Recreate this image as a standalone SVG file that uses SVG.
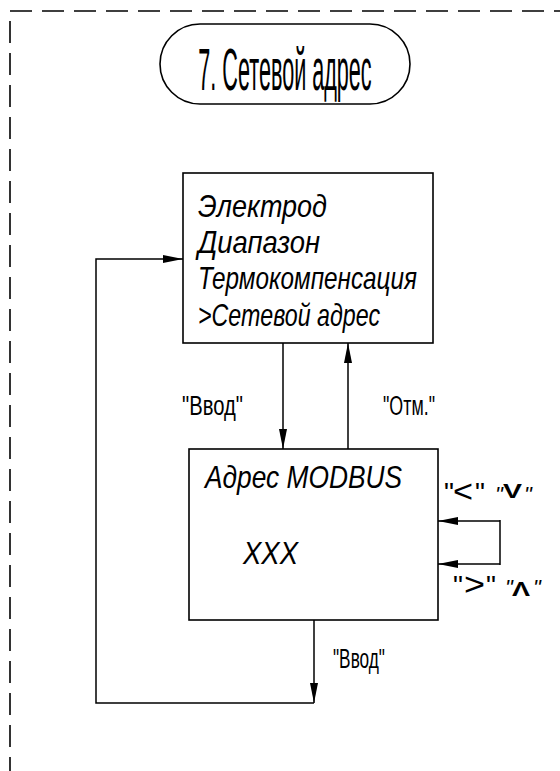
<svg xmlns="http://www.w3.org/2000/svg" width="560" height="771" viewBox="0 0 560 771">
<style>
.frame{fill:none;stroke:#000;stroke-width:1.6;stroke-dasharray:22 10}
.box{fill:#fff;stroke:#000;stroke-width:1.6}
.ln{fill:none;stroke:#000;stroke-width:1.5}
.t{font-family:"Liberation Sans",Arial,sans-serif;fill:#000}
.it{font-style:italic}
.b{font-weight:bold}
</style>
<defs>
<marker id="ah" markerUnits="userSpaceOnUse" markerWidth="20" markerHeight="8" refX="20" refY="4" orient="auto">
<path d="M0,0 L20,4 L0,8 Z" fill="#000"/>
</marker>
</defs>
<g id="frame">
<line class="frame" x1="10" y1="11" x2="560" y2="11"/>
<line class="frame" x1="10" y1="21" x2="10" y2="771"/>
</g>
<g id="title">
<rect class="box" x="160" y="24" width="250" height="80" rx="40" ry="40"/>
<text class="t" transform="translate(285,90) scale(0.36,1)" x="0" y="0" font-size="60" text-anchor="middle">7. Сетевой адрес</text>
</g>
<g id="menu">
<rect class="box" x="183" y="173" width="250" height="170"/>
<text class="t it" x="198" y="217" font-size="32" textLength="129" lengthAdjust="spacingAndGlyphs">Электрод</text>
<text class="t it" x="198" y="253" font-size="32" textLength="122" lengthAdjust="spacingAndGlyphs">Диапазон</text>
<text class="t it" x="198" y="289" font-size="32" textLength="219" lengthAdjust="spacingAndGlyphs">Термокомпенсация</text>
<text class="t it" x="198" y="326" font-size="32" textLength="182" lengthAdjust="spacingAndGlyphs">&gt;Сетевой адрес</text>
</g>
<g id="modbus">
<rect class="box" x="189" y="449" width="249" height="171"/>
<text class="t it" x="205" y="488" font-size="32" textLength="197" lengthAdjust="spacingAndGlyphs">Адрес MODBUS</text>
<text class="t it" x="243" y="564" font-size="32" textLength="55" lengthAdjust="spacingAndGlyphs">XXX</text>
</g>
<g id="connectors">
<line class="ln" x1="283" y1="343" x2="283" y2="449" marker-end="url(#ah)"/>
<line class="ln" x1="348" y1="449" x2="348" y2="343" marker-end="url(#ah)"/>
<line class="ln" x1="314" y1="620" x2="314" y2="703" marker-end="url(#ah)"/>
<polyline class="ln" points="314,703 96,703 96,259 183,259" marker-end="url(#ah)"/>
<line class="ln" x1="500" y1="521" x2="438" y2="521" marker-end="url(#ah)"/>
<line class="ln" x1="500" y1="564" x2="438" y2="564" marker-end="url(#ah)"/>
<line class="ln" x1="500" y1="520" x2="500" y2="565"/>
</g>
<g id="labels">
<text class="t" x="182" y="415" font-size="27" textLength="61" lengthAdjust="spacingAndGlyphs">"Ввод"</text>
<text class="t" x="383" y="415" font-size="27" textLength="52" lengthAdjust="spacingAndGlyphs">"Отм."</text>
<text class="t" x="333" y="668" font-size="27" textLength="52" lengthAdjust="spacingAndGlyphs">"Ввод"</text>
<text class="t" font-size="28"><tspan x="444" y="502">"</tspan><tspan x="453" y="502" font-size="32" textLength="20" lengthAdjust="spacingAndGlyphs">&lt;</tspan><tspan x="475" y="502">"</tspan><tspan x="495" y="502" class="it" font-size="22">"</tspan><tspan x="503" y="498" class="b" font-size="20" textLength="19" lengthAdjust="spacingAndGlyphs">V</tspan><tspan x="524" y="502" class="it" font-size="22">"</tspan></text>
<text class="t" font-size="28"><tspan x="453" y="595">"</tspan><tspan x="464" y="595" font-size="32" textLength="21" lengthAdjust="spacingAndGlyphs">&gt;</tspan><tspan x="486" y="595">"</tspan><tspan x="505" y="595" class="it" font-size="22">"</tspan><tspan x="512" y="596" class="b" font-size="20" textLength="18" lengthAdjust="spacingAndGlyphs">Λ</tspan><tspan x="533" y="595" class="it" font-size="22">"</tspan></text>
</g>
</svg>
